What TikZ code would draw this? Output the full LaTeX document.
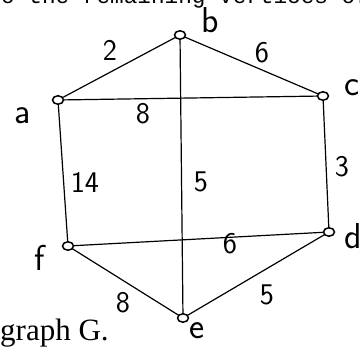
\documentclass[tikz,border=0pt]{standalone}
\usepackage{fontspec}
\newfontfamily\monofont{Liberation Mono}
\newfontfamily\seriffont{Liberation Serif}
\usetikzlibrary{shapes.geometric}

\begin{document}
\begin{tikzpicture}[x=1pt,y=-1pt,
  vtx/.style={ellipse,draw,line width=1.5pt,fill=white,minimum width=11pt,minimum height=8.5pt,inner sep=0pt},
  edge/.style={line width=1.2pt},
  wt/.style={font=\sffamily\fontsize{30}{30}\selectfont},
  vlab/.style={font=\sffamily\fontsize{36}{36}\selectfont}]
  \useasboundingbox (0,0) rectangle (360,350);
  \clip (0,0) rectangle (360,350);
  % surrounding text of the page
  \node[anchor=base west,inner sep=0pt,font=\monofont\fontsize{22.7}{22.7}\selectfont] (toptext) at (-12.6,4) {to the remaining vertices of};
  \node[anchor=base west,inner sep=0pt,font=\seriffont\fontsize{31}{31}\selectfont] (caption) at (0,341) {graph G.};
  % vertices
  \coordinate (pa) at (58,100);
  \coordinate (pb) at (180,35);
  \coordinate (pc) at (323,96);
  \coordinate (pd) at (329,232);
  \coordinate (pe) at (183,318);
  \coordinate (pf) at (68,246);
  % edges
  \draw[edge] (pa) -- (pb);
  \draw[edge] (pb) -- (pc);
  \draw[edge] (pa) -- (pc);
  \draw[edge] (pb) -- (pe);
  \draw[edge] (pa) -- (pf);
  \draw[edge] (pc) -- (pd);
  \draw[edge] (pf) -- (pd);
  \draw[edge] (pf) -- (pe);
  \draw[edge] (pe) -- (pd);
  \node[vtx] (a) at (pa) {};
  \node[vtx] (b) at (pb) {};
  \node[vtx] (c) at (pc) {};
  \node[vtx] (d) at (pd) {};
  \node[vtx] (e) at (pe) {};
  \node[vtx] (f) at (pf) {};
  % weights
  \node[wt] (wab) at (110,50) {2};
  \node[wt] (wbc) at (262,53) {6};
  \node[wt] (wac) at (143,114) {8};
  \node[wt] (waf) at (85,182) {14};
  \node[wt] (wbe) at (201,182) {5};
  \node[wt] (wcd) at (342,167) {3};
  \node[wt] (wfd) at (230,244) {6};
  \node[wt] (wfe) at (123,303) {8};
  \node[wt] (wed) at (267,295) {5};
  % vertex names
  \node[vlab] (la) at (23,116) {a};
  \node[vlab] (lb) at (210,20) {b};
  \node[vlab] (lc) at (352,88) {c};
  \node[vlab] (ld) at (353,236) {d};
  \node[vlab] (le) at (197,331) {e};
  \node[vlab] (lf) at (40,258) {f};
\end{tikzpicture}
\end{document}
